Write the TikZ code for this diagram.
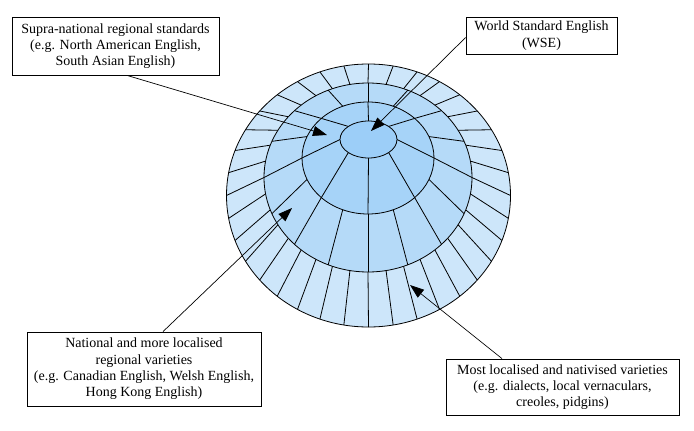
\documentclass[tikz,border=0pt]{standalone}
\usepackage{fontspec}
\setmainfont{Liberation Serif}
\usetikzlibrary{arrows.meta}

\definecolor{ringOut}{HTML}{CDE6FA}
\definecolor{ringReg}{HTML}{B5DAF8}
\definecolor{ringSup}{HTML}{A6D3F8}
\definecolor{ringWse}{HTML}{9CCEF8}

\begin{document}
\begin{tikzpicture}[x=1pt, y=-1pt, inner sep=0pt]
            \useasboundingbox (0,0) rectangle (694,431);

            \tikzstyle{myBox}=[draw, fill=white, line width=0.8pt, align=center, font=\fontsize{14}{16.3}\selectfont];
            \tikzstyle{myArr}=[-{Triangle[length=14pt,width=10pt]}, line width=0.7pt];
            \tikzstyle{myRad}=[line width=0.8pt];

            \filldraw[fill=ringOut, myRad] (368.5,195.5) ellipse [x radius=142pt, y radius=131.5pt];
            \foreach \a in {0,10,...,350}
                \draw[myRad] ({368.5+142*cos(\a)},{195.5+131.5*sin(\a)}) -- ({368+104*cos(\a)},{177.5+94.5*sin(\a)});
            \filldraw[fill=ringReg, myRad] (368,177.5) ellipse [x radius=104pt, y radius=94.5pt];
            \foreach \a in {0,22.5,...,340}
                \draw[myRad] ({368+104*cos(\a)},{177.5+94.5*sin(\a)}) -- ({368+66*cos(\a)},{158+56*sin(\a)});
            \filldraw[fill=ringSup, myRad] (368,158) ellipse [x radius=66pt, y radius=56pt];
            \foreach \a in {0,45,...,315}
                \draw[myRad] ({368+66*cos(\a)},{158+56*sin(\a)}) -- ({368.5+28.5*cos(\a)},{139.5+18.5*sin(\a)});
            \filldraw[fill=ringWse, myRad] (368.5,139.5) ellipse [x radius=28.5pt, y radius=18.5pt];

            \node[myBox, minimum width=207pt, minimum height=58pt] (supra) at (115.5,46)
                {Supra-national regional standards\\(e.g. North American English,\\South Asian English)};
            \node[myBox, minimum width=151pt, minimum height=37pt] (wse) at (541.5,35.5)
                {World Standard English\\(WSE)};
            \node[myBox, minimum width=234pt, minimum height=74pt] (national) at (144,369)
                {National and more localised\\regional varieties\\(e.g. Canadian English, Welsh English,\\Hong Kong English)};
            \node[myBox, minimum width=233pt, minimum height=56pt] (local) at (562.5,387)
                {Most localised and nativised varieties\\(e.g. dialects, local vernaculars,\\creoles, pidgins)};

            \coordinate (supraTip) at (327,135);
            \coordinate (wseTip) at (371,131);
            \coordinate (nationalTip) at (292,208);
            \coordinate (localTip) at (410,285);

            \draw[myArr] ([xshift=11.5pt]supra.south) -- (supraTip);
            \draw[myArr] ([yshift=-2pt]wse.west) -- (wseTip);
            \draw[myArr] ([xshift=19pt]national.north) -- (nationalTip);
            \draw[myArr] ([xshift=-60.5pt]local.north) -- (localTip);
         \end{tikzpicture}
\end{document}
